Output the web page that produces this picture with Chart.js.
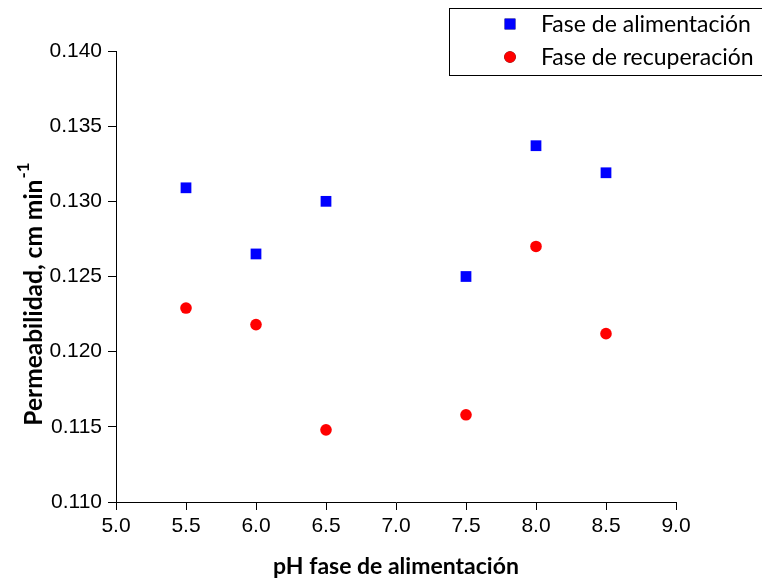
<!DOCTYPE html>
<html>
<head>
<meta charset="utf-8">
<script src="https://cdn.jsdelivr.net/npm/chart.js@4.4.1/dist/chart.umd.min.js"></script>
<style>
  html, body { margin: 0; padding: 0; background: #fff; }
  #wrap { width: 762px; height: 581px; }
</style>
</head>
<body>
<div id="wrap"><canvas id="perm-chart"></canvas></div>
<script>
// pH values of the feed phase
var phValues = [5.5, 6.0, 6.5, 7.5, 8.0, 8.5];
// permeability (cm/min) for each phase
var feedPerm = [0.1309, 0.1265, 0.1300, 0.1250, 0.1337, 0.1319];
var stripPerm = [0.1229, 0.1218, 0.1148, 0.1158, 0.1270, 0.1212];

var seriesNames = ['Fase de alimentación', 'Fase de recuperación'];
var xTitle = 'pH fase de alimentación';
var yTitle = 'Permeabilidad, cm min';
var yTitleSup = '-1';

function toPoints(xs, ys) {
  return xs.map(function (x, i) { return { x: x, y: ys[i] }; });
}

var titleFont = 'Lato, "Noto Sans", sans-serif';
var tickFont = '"Liberation Sans", Arial, sans-serif';

// axis titles (the y title needs a superscript)
var axisTitles = {
  id: 'axisTitles',
  afterDraw: function (chart) {
    var ctx = chart.ctx;
    var area = chart.chartArea;
    ctx.save();
    ctx.fillStyle = '#000';
    ctx.textBaseline = 'alphabetic';
    ctx.font = 'bold 23px ' + titleFont;
    ctx.textAlign = 'center';
    ctx.fillText(xTitle, (area.left + area.right) / 2, 574);

    ctx.translate(42, (area.top + area.bottom) / 2 + 18);
    ctx.rotate(-Math.PI / 2);
    ctx.font = 'bold 24.5px ' + titleFont;
    var w1 = ctx.measureText(yTitle).width;
    ctx.font = 'bold 17px ' + titleFont;
    var w2 = ctx.measureText(yTitleSup).width;
    var x0 = -(w1 + w2) / 2;
    ctx.textAlign = 'left';
    ctx.font = 'bold 24.5px ' + titleFont;
    ctx.fillText(yTitle, x0, 0);
    ctx.font = 'bold 17px ' + titleFont;
    ctx.fillText(yTitleSup, x0 + w1 + 1, -13);
    ctx.restore();
  }
};

// boxed legend in the top right corner
var boxLegend = {
  id: 'boxLegend',
  afterDraw: function (chart) {
    var ctx = chart.ctx;
    ctx.save();
    ctx.strokeStyle = '#000';
    ctx.lineWidth = 1;
    ctx.strokeRect(449.5, 8.5, 320, 67);
    ctx.font = '23px ' + titleFont;
    ctx.textBaseline = 'middle';
    ctx.textAlign = 'left';
    chart.data.datasets.forEach(function (ds, i) {
      var y = 24 + i * 33;
      Chart.helpers.drawPoint(ctx, {
        pointStyle: ds.pointStyle,
        radius: ds.pointRadius,
        borderWidth: 0
      }, 510, y);
      ctx.fillStyle = ds.backgroundColor;
      ctx.fill();
      ctx.fillStyle = '#000';
      ctx.fillText(ds.label, 541, y + 1);
    });
    ctx.restore();
  }
};

var axisBorder = { display: true, color: '#000', width: 1 };
var axisGrid = { drawOnChartArea: false, drawTicks: true, tickLength: 8, color: '#000' };

new Chart(document.getElementById('perm-chart').getContext('2d'), {
  type: 'scatter',
  data: {
    datasets: [
      {
        label: seriesNames[0],
        data: toPoints(phValues, feedPerm),
        pointStyle: 'rect',
        pointRadius: 7.6,
        pointHoverRadius: 7.6,
        backgroundColor: '#0000ff',
        borderColor: '#0000ff',
        borderWidth: 0
      },
      {
        label: seriesNames[1],
        data: toPoints(phValues, stripPerm),
        pointStyle: 'circle',
        pointRadius: 5.8,
        pointHoverRadius: 5.8,
        backgroundColor: '#ff0000',
        borderColor: '#ff0000',
        borderWidth: 0
      }
    ]
  },
  options: {
    responsive: true,
    maintainAspectRatio: false,
    animation: false,
    layout: { padding: { left: 0, top: 51, right: 86, bottom: 0 } },
    plugins: {
      legend: { display: false },
      tooltip: { enabled: false }
    },
    scales: {
      x: {
        type: 'linear',
        min: 5,
        max: 9,
        border: axisBorder,
        grid: axisGrid,
        ticks: {
          color: '#000',
          font: { family: tickFont, size: 21 },
          padding: 4,
          stepSize: 0.5,
          maxRotation: 0,
          callback: function (v) { return v.toFixed(1); }
        },
        afterFit: function (scale) { scale.height = 79; }
      },
      y: {
        min: 0.110,
        max: 0.140,
        border: axisBorder,
        grid: axisGrid,
        ticks: {
          color: '#000',
          font: { family: tickFont, size: 21 },
          padding: 6,
          stepSize: 0.005,
          callback: function (v) { return v.toFixed(3); }
        },
        afterFit: function (scale) { scale.width = 116; }
      }
    }
  },
  plugins: [axisTitles, boxLegend]
});
</script>
</body>
</html>
